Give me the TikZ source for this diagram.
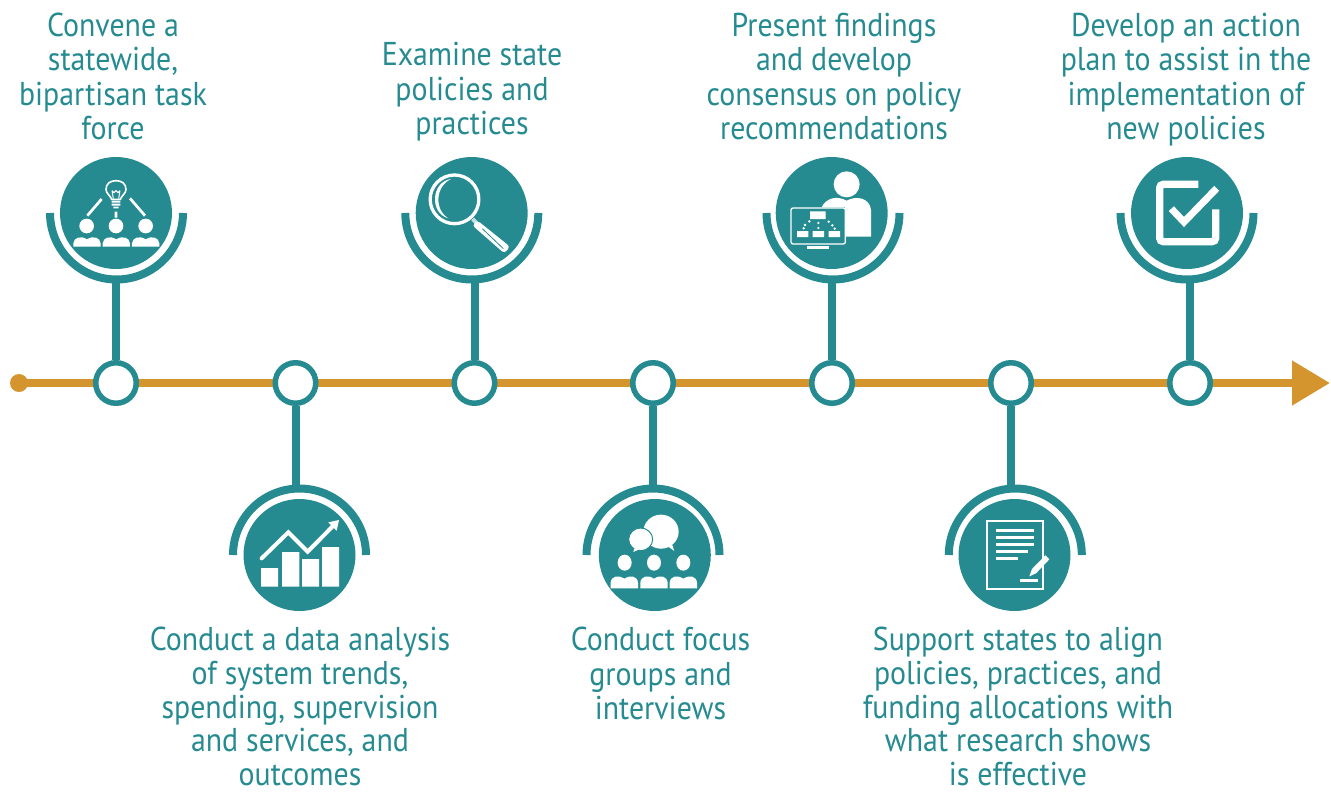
\documentclass[tikz,border=0pt]{standalone}
\usepackage{fontspec}
\setmainfont[FakeStretch=0.905]{PT Sans}
\usetikzlibrary{arrows.meta}
\definecolor{teal1}{HTML}{268B91}
\definecolor{gold1}{HTML}{D4952F}
\newcommand{\pbodyA}[1]{\fill[white,shift={(#1,0)}] (0,290) -- (0,280) .. controls (2,262) and (22,256) .. (41,268) .. controls (60,256) and (80,262) .. (82,280) -- (82,290) -- cycle;}
\newcommand{\pbodyB}[1]{\fill[white,shift={(#1,0)}] (0,325) -- (0,308) .. controls (2,288) and (22,284) .. (41,296) .. controls (60,284) and (80,288) .. (82,308) -- (82,325) -- cycle;}
\newcommand{\firstline}{\rule{0pt}{26pt}}
\tikzset{
  disc/.style={circle,fill=teal1,minimum size=112pt,inner sep=0pt},
  junction/.style={circle,draw=teal1,line width=5.5pt,fill=white,minimum size=40.5pt,inner sep=0pt},
  stem/.style={draw=teal1,line width=8pt},
  cradle/.style={draw=teal1,line width=8pt,x radius=66.5,y radius=66.5},
  axisline/.style={draw=gold1,line width=8pt,-{Triangle[length=38pt,width=43pt]}},
  startdot/.style={circle,fill=gold1,minimum size=18pt,inner sep=0pt},
  caption/.style={text=teal1,align=center,anchor=north,font=\fontsize{33}{34.5}\selectfont,inner sep=0pt},
  longcaption/.style={caption,font=\fontsize{33}{33.8}\selectfont},
  icon/.style={x=0.33333pt,y=-0.33333pt},
  wline/.style={draw=white,line width=2.7pt}
}
\begin{document}
\begin{tikzpicture}[x=1pt,y=-1pt]
\useasboundingbox (0,0) rectangle (1331,793);
% axis
\coordinate (axs) at (19,383);
\coordinate (axe) at (1330,383);
\draw[axisline] (axs) -- (axe);
\node[startdot] (st) at (axs) {};
% junctions
\node[junction] (j1) at (116,383) {};
\node[junction] (j2) at (295.5,383) {};
\node[junction] (j3) at (474.5,383) {};
\node[junction] (j4) at (653,383) {};
\node[junction] (j5) at (832,383) {};
\node[junction] (j6) at (1011,383) {};
\node[junction] (j7) at (1190,383) {};
% discs
\node[disc] (d1) at (116,213) {};
\node[disc] (d2) at (299.5,555) {};
\node[disc] (d3) at (471.7,213) {};
\node[disc] (d4) at (654.8,555) {};
\node[disc] (d5) at (831.7,213) {};
\node[disc] (d6) at (1014.5,555) {};
\node[disc] (d7) at (1187,213) {};
% cradles (free ends of the stems)
\draw[cradle] (50,213) arc[start angle=180,end angle=0];
\draw[cradle] (233,555) arc[start angle=180,end angle=360];
\draw[cradle] (405.3,213) arc[start angle=180,end angle=0];
\draw[cradle] (586.5,555) arc[start angle=180,end angle=360];
\draw[cradle] (766.5,213) arc[start angle=180,end angle=0];
\draw[cradle] (948.8,555) arc[start angle=180,end angle=360];
\draw[cradle] (1120.5,213) arc[start angle=180,end angle=0];
\coordinate (a1) at (116,282);
\coordinate (a2) at (295.5,486);
\coordinate (a3) at (474.5,282);
\coordinate (a4) at (653,486);
\coordinate (a5) at (832,282);
\coordinate (a6) at (1011,486);
\coordinate (a7) at (1190,282);
\draw[stem] (a1) -- (j1);
\draw[stem] (a2) -- (j2);
\draw[stem] (a3) -- (j3);
\draw[stem] (a4) -- (j4);
\draw[stem] (a5) -- (j5);
\draw[stem] (a6) -- (j6);
\draw[stem] (a7) -- (j7);
% captions
\node[caption] (t1) at (113,10) {\firstline Convene a\\statewide,\\bipartisan task\\force};
\node[longcaption] (t2) at (300,624.2) {\firstline Conduct a data analysis\\of system trends,\\spending, supervision\\and services, and\\outcomes};
\node[caption] (t3) at (472,39.5) {\firstline Examine state\\policies and\\practices};
\node[caption] (t4) at (660.5,624.7) {\firstline Conduct focus\\groups and\\interviews};
\node[caption] (t5) at (834,10) {\firstline Present findings\\and develop\\consensus on policy\\recommendations};
\node[longcaption] (t6) at (1018,624.2) {\firstline Support states to align\\policies, practices, and\\funding allocations with\\what research shows\\is effective};
\node[caption] (t7) at (1186,10) {\firstline Develop an action\\plan to assist in the\\implementation of\\new policies};
% icon 1
\begin{scope}[shift={(30,150)},icon]
\draw[white,line width=1.6pt] (245,148) .. controls (240,135) and (228,130) .. (228,118) .. controls (228,100) and (242,92) .. (258,92) .. controls (274,92) and (288,100) .. (288,118) .. controls (288,130) and (276,135) .. (271,148) -- cycle;
\draw[white,line width=1pt] (250,146) -- (246,122) (266,146) -- (270,122) (246,122) -- (252,128) -- (258,122) -- (264,128) -- (270,122);
\fill[white] (245,152) rectangle (271,158) (245,161) rectangle (271,167) (250,170) rectangle (266,175);
\draw[wline] (215,147) -- (172,197) (258,185) -- (258,203) (300,145) -- (345,197);
\fill[white] (170,228) circle[radius=22] (258,228) circle[radius=22] (347,228) circle[radius=22];
\pbodyA{130}\pbodyA{218}\pbodyA{306}
\end{scope}
% icon 2
\begin{scope}[shift={(220,480)},icon]
\fill[white] (123,264) rectangle (174,320) (186,216) rectangle (238,320) (246,237) rectangle (297,320) (306,201) rectangle (357,320);
\draw[white,line width=4pt,line cap=round,line join=miter] (125,235) -- (205,157) -- (263,215) -- (340,137);
\fill[white] (357,120) -- (325,127) -- (350,152) -- cycle;
\end{scope}
% icon 3
\begin{scope}[shift={(575,480)},icon]
\fill[white] (258,155) ellipse[x radius=53,y radius=51];
\fill[white] (280,200) -- (298,213) -- (290,190) -- cycle;
\fill[white,draw=teal1,line width=1pt] (197,178) ellipse[x radius=36,y radius=34];
\fill[white] (178,205) -- (175,216) -- (192,208) -- cycle;
\fill[white] (149,248) ellipse[x radius=21,y radius=24] (237,248) ellipse[x radius=21,y radius=24] (325,248) ellipse[x radius=21,y radius=24];
\pbodyB{107}\pbodyB{196}\pbodyB{284}
\end{scope}
% icon 4
\begin{scope}[shift={(755,150)},icon]
\fill[white] (275,103) circle[radius=39];
\fill[white] (200,172) .. controls (212,145) and (245,135) .. (275,152) .. controls (305,135) and (345,145) .. (348,180) -- (348,260) -- (270,260) -- (270,172) -- cycle;
\fill[teal1,draw=white,line width=1.3pt,rounded corners=2pt] (108,174) rectangle (271,282);
\fill[white] (156,288) rectangle (222,296);
\fill[white] (165,184) rectangle (212,207) (126,243) rectangle (160,261) (173,243) rectangle (207,261) (221,243) rectangle (255,261);
\fill[white] (163,214) circle[radius=4] (150,225) circle[radius=4] (146,235) circle[radius=4] (190,219) circle[radius=4] (190,234) circle[radius=4] (221,215) circle[radius=4] (232,226) circle[radius=4] (239,236) circle[radius=4];
\end{scope}
% icon 5
\begin{scope}[shift={(935,480)},icon]
\draw[white,line width=2pt] (156,123) rectangle (325,326);
\draw[wline] (183,152) -- (297,152) (183,172) -- (297,172) (183,193) -- (297,193) (183,214) -- (279,214) (183,236) -- (249,236) (255,301) -- (309,301);
\fill[white] (331,226) -- (343,238) -- (303,280) -- (283,289) -- (291,267) -- cycle;
\end{scope}
% icon 6
\begin{scope}[shift={(395,150)},icon]
\draw[white,line width=3.3pt] (178.5,148) circle[radius=73];
\fill[white] (168,87) .. controls (108,95) and (103,190) .. (160,205) .. controls (118,180) and (120,110) .. (168,87) -- cycle;
\draw[white!75!teal1,line width=4pt] (233,207) -- (246,220);
\fill[white,rounded corners=3pt] (248,212) -- (345,290) -- (328,310) -- (232,226) -- cycle;
\draw[teal1,line width=0.8pt] (262,236) -- (325,296);
\end{scope}
% icon 7
\begin{scope}[shift={(1110,150)},icon]
\draw[white,line width=7.3pt,rounded corners=3.6pt] (265,103) -- (149,103) -- (149,275) -- (317,275) -- (317,178);
\draw[white,line width=7pt,line join=miter] (184,176) -- (222,216) -- (320,115);
\end{scope}
\end{tikzpicture}
\end{document}
